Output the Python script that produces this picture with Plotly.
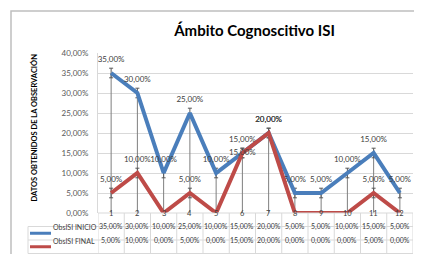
import plotly.graph_objects as go

categories = [1, 2, 3, 4, 5, 6, 7, 8, 9, 10, 11, 12]
inicio = [0.35, 0.30, 0.10, 0.25, 0.10, 0.15, 0.20, 0.05, 0.05, 0.10, 0.15, 0.05]
final = [0.05, 0.10, 0.00, 0.05, 0.00, 0.15, 0.20, 0.00, 0.00, 0.00, 0.05, 0.00]
series_names = ["ObsISI INICIO", "ObsISI FINAL"]
y_ticks = [0, 0.05, 0.10, 0.15, 0.20, 0.25, 0.30, 0.35, 0.40]

BLUE = "#4A7EBB"
RED = "#BE4B48"
TXT = "#404040"
GRID = "#D9D9D9"
FONT = "Lato"

def pct(v):
    return f"{v*100:.2f}%".replace(".", ",")

W, H = 422, 254
L, R, T, B = 90, 17, 45, 49
PW = W - L - R
PH = H - T - B

def px_to_paper_x(px):
    return (px - L) / PW

def px_to_paper_y(py):
    return (H - B - py) / PH

fig = go.Figure()

# drop lines from the highest point of each category to the axis
dx, dy = [], []
for c, a, b in zip(categories, inicio, final):
    dx += [c, c, None]
    dy += [max(a, b), 0, None]
fig.add_trace(go.Scatter(x=dx, y=dy, mode="lines", line=dict(color="#7F7F7F", width=1),
                         hoverinfo="skip", showlegend=False))

blue_pos = ["top center"] * len(categories)
red_pos = ["top center"] * len(categories)
red_pos[5] = "middle center"

fig.add_trace(go.Scatter(
    x=categories, y=inicio, mode="lines+markers+text", name=series_names[0],
    line=dict(color=BLUE, width=4),
    marker=dict(size=13, color="rgba(0,0,0,0)"),
    text=[pct(v) for v in inicio], textposition=blue_pos,
    textfont=dict(family=FONT, size=8, color=TXT),
    error_y=dict(type="data", array=[0.012 if v > 0 else 0 for v in inicio],
                 color="#595959", thickness=1, width=2),
    cliponaxis=False, showlegend=False))
fig.add_trace(go.Scatter(
    x=categories, y=final, mode="lines+markers+text", name=series_names[1],
    line=dict(color=RED, width=4),
    marker=dict(size=13, color="rgba(0,0,0,0)"),
    text=[pct(v) if v > 0 else "" for v in final], textposition=red_pos,
    textfont=dict(family=FONT, size=8, color=TXT),
    error_y=dict(type="data", array=[0.012 if v > 0 else 0 for v in final],
                 color="#595959", thickness=1, width=2),
    cliponaxis=False, showlegend=False))

shapes = []
annotations = []

# data table geometry (pixel rows below the plot)
row_h = 13.5
y_top = H - B
rows_y = [y_top + row_h * k for k in range(4)]  # 205, 218.5, 232, 245.5
tbl_left = 20

for k in (1, 2, 3):
    shapes.append(dict(type="line", xref="paper", yref="paper",
                       x0=px_to_paper_x(tbl_left), x1=1,
                       y0=px_to_paper_y(rows_y[k]), y1=px_to_paper_y(rows_y[k]),
                       line=dict(color=GRID, width=1)))
shapes.append(dict(type="line", xref="paper", yref="paper",
                   x0=0, x1=1, y0=0, y1=0, line=dict(color=GRID, width=1)))
shapes.append(dict(type="line", xref="paper", yref="paper",
                   x0=px_to_paper_x(tbl_left), x1=px_to_paper_x(tbl_left),
                   y0=px_to_paper_y(rows_y[1]), y1=px_to_paper_y(rows_y[3]),
                   line=dict(color=GRID, width=1)))
for k in range(len(categories) + 1):
    xv = categories[0] - 0.5 + k
    shapes.append(dict(type="line", xref="x", yref="paper", x0=xv, x1=xv,
                       y0=0, y1=px_to_paper_y(rows_y[3]), line=dict(color=GRID, width=1)))

for c in categories:
    annotations.append(dict(x=c, y=px_to_paper_y((rows_y[0] + rows_y[1]) / 2), xref="x", yref="paper",
                            text=str(c), showarrow=False, font=dict(family=FONT, size=7.5, color=TXT)))
for r, vals in enumerate([inicio, final]):
    yc = px_to_paper_y((rows_y[r + 1] + rows_y[r + 2]) / 2)
    for c, v in zip(categories, vals):
        annotations.append(dict(x=c, y=yc, xref="x", yref="paper", text=pct(v), showarrow=False,
                                font=dict(family=FONT, size=7, color=TXT)))
    color = BLUE if r == 0 else RED
    shapes.append(dict(type="line", xref="paper", yref="paper",
                       x0=px_to_paper_x(22), x1=px_to_paper_x(43), y0=yc, y1=yc,
                       line=dict(color=color, width=3)))
    annotations.append(dict(x=px_to_paper_x(43), y=yc, xref="paper", yref="paper", xanchor="left",
                            text=series_names[r], showarrow=False,
                            font=dict(family=FONT, size=7, color=TXT)))

# outer chart border
shapes.append(dict(type="rect", xref="paper", yref="paper",
                   x0=px_to_paper_x(3), x1=px_to_paper_x(417), y0=px_to_paper_y(248), y1=px_to_paper_y(3),
                   line=dict(color="#BFBFBF", width=1.5)))

# y axis title
annotations.append(dict(x=px_to_paper_x(19), y=px_to_paper_y(120), xref="paper", yref="paper",
                        text="<b>DATOS OBTENIDOS DE LA OBSERVACIÓN</b>", textangle=-90, showarrow=False,
                        font=dict(family=FONT, size=7.5, color="#000000")))

fig.update_layout(
    width=W, height=H, margin=dict(l=L, r=R, t=T, b=B),
    paper_bgcolor="white", plot_bgcolor="white",
    separators=",.",
    title=dict(text="<b>Ámbito Cognoscitivo ISI</b>", x=0.497, xref="paper", xanchor="center",
               y=1 - 23 / H, yanchor="middle", yref="container",
               font=dict(family=FONT, size=15, color="#000000")),
    xaxis=dict(range=[categories[0] - 0.5, categories[-1] + 0.5], showticklabels=False,
               showgrid=False, zeroline=False, ticks=""),
    yaxis=dict(range=[0, 0.40], tickvals=y_ticks, tickformat=".2%", showgrid=True, gridcolor=GRID,
               gridwidth=1, zeroline=False, showline=True, linecolor=GRID, ticks="",
               ticklabelstandoff=7, tickfont=dict(family=FONT, size=8, color="#595959")),
    shapes=shapes, annotations=annotations,
    hovermode=False,
)

fig.write_html("out.html")
